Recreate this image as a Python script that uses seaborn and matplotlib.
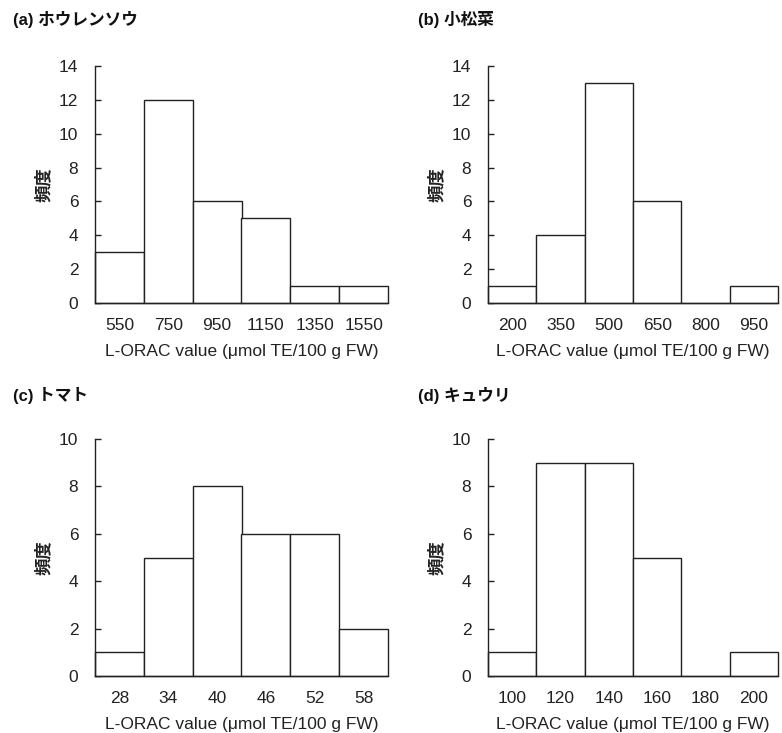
import numpy as np
import pandas as pd
import matplotlib
matplotlib.use("Agg")
import matplotlib.pyplot as plt
import seaborn as sns

# histogram bins (class labels) and counts per vegetable
spinach_bins = ["550", "750", "950", "1150", "1350", "1550"]
spinach_counts = [3, 12, 6, 5, 1, 1]

komatsuna_bins = ["200", "350", "500", "650", "800", "950"]
komatsuna_counts = [1, 4, 13, 6, 0, 1]

tomato_bins = ["28", "34", "40", "46", "52", "58"]
tomato_counts = [1, 5, 8, 6, 6, 2]

cucumber_bins = ["100", "120", "140", "160", "180", "200"]
cucumber_counts = [1, 9, 9, 5, 0, 1]

titles = ["(a) ホウレンソウ", "(b) 小松菜", "(c) トマト", "(d) キュウリ"]
ymax = [14, 14, 10, 10]
xlabel = "L-ORAC value (μmol TE/100 g FW)"
ylabel = "頻度"

sns.set_style("ticks")
plt.rcParams["font.family"] = ["Liberation Sans", "Noto Sans CJK JP", "DejaVu Sans"]
plt.rcParams["font.size"] = 12.5

fig = plt.figure(figsize=(7.82, 7.33), dpi=100)
W, H = 782, 733

panels = [
    (spinach_bins, spinach_counts),
    (komatsuna_bins, komatsuna_counts),
    (tomato_bins, tomato_counts),
    (cucumber_bins, cucumber_counts),
]

# axes boxes in pixels: left, top, right, bottom
boxes = [(95, 66, 388, 303), (488, 66, 778, 303),
         (95, 439, 388, 676), (488, 439, 778, 676)]
title_pos = [(13, 20), (418, 20), (13, 395), (418, 395)]

for i, ((bins, counts), box) in enumerate(zip(panels, boxes)):
    l, t, r, b = box
    ax = fig.add_axes([l / W, 1 - b / H, (r - l) / W, (b - t) / H])
    df = pd.DataFrame({"bin": bins, "count": counts})
    sns.barplot(data=df, x="bin", y="count", order=bins, color="white",
                edgecolor="#222222", linewidth=1.0, width=1.0, ax=ax,
                saturation=1)
    for p in ax.patches:
        p.set_clip_on(False)
    ax.set_xlim(-0.5, len(bins) - 0.5)
    ax.set_ylim(0, ymax[i])
    ax.set_yticks(np.arange(0, ymax[i] + 1, 2))
    ax.tick_params(axis="y", direction="in", length=4, width=1,
                   color="#222222", pad=12, labelsize=12.5, labelcolor="#222222")
    ax.tick_params(axis="x", length=0, pad=10.5, labelsize=12.5, labelcolor="#222222")
    sns.despine(ax=ax)
    for s in ["left", "bottom"]:
        ax.spines[s].set_color("#222222")
        ax.spines[s].set_linewidth(1.0)
    ax.set_xlabel(xlabel, fontsize=12.5, color="#222222", labelpad=8)
    ax.set_ylabel(ylabel, fontsize=12.5, fontweight="bold", color="#222222",
                  labelpad=5)
    tx, ty = title_pos[i]
    fig.text(tx / W, 1 - ty / H, titles[i], fontsize=12, fontweight="bold",
             va="center", ha="left", color="#111111")

fig.savefig("out.png", dpi=100, facecolor="white")
